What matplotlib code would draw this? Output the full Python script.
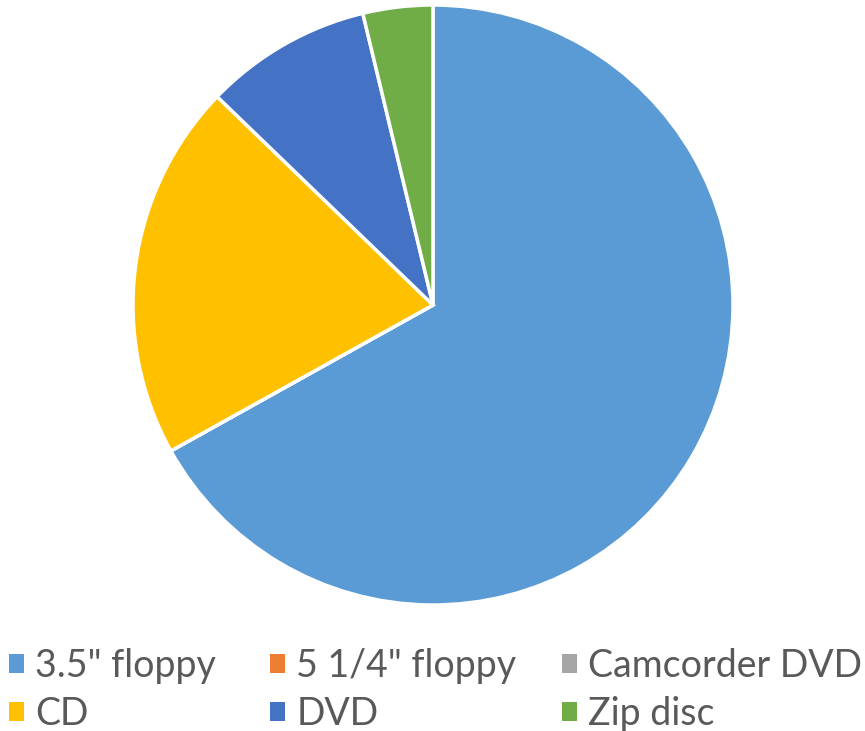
import matplotlib.pyplot as plt
from matplotlib.patches import Patch

# storage media, clockwise from 12 o'clock
labels = ['3.5" floppy', '5 1/4" floppy', 'Camcorder DVD', 'CD', 'DVD', 'Zip disc']
values = [178, 0, 0, 54, 24, 10]
colors = ['#5B9BD5', '#ED7D31', '#A5A5A5', '#FFC000', '#4472C4', '#70AD47']

plt.rcParams['font.family'] = ['Lato', 'DejaVu Sans']

fig = plt.figure(figsize=(8.65, 7.31), dpi=100)
ax = fig.add_axes([133 / 865, 126 / 731, 600 / 865, 600 / 731])
ax.pie(values, colors=colors, startangle=90, counterclock=False, radius=1,
       wedgeprops=dict(edgecolor='white', linewidth=2.5))
ax.set_xlim(-1, 1)
ax.set_ylim(-1, 1)
ax.set_aspect('equal')
ax.axis('off')

# legend laid out row-wise, one legend per column
col_x = [9 / 865, 270 / 865, 562 / 865]
for i in range(3):
    idx = [i, i + 3]
    handles = [Patch(facecolor=colors[j], edgecolor='none') for j in idx]
    fig.legend(handles, [labels[j] for j in idx], loc='upper left',
               bbox_to_anchor=(col_x[i], 1 - 648 / 731), frameon=False,
               fontsize=27, labelcolor='#595959', handlelength=0.4,
               handleheight=0.4, handletextpad=0.3, labelspacing=0.32,
               borderaxespad=0, borderpad=0)

fig.savefig('out.png', dpi=100)
